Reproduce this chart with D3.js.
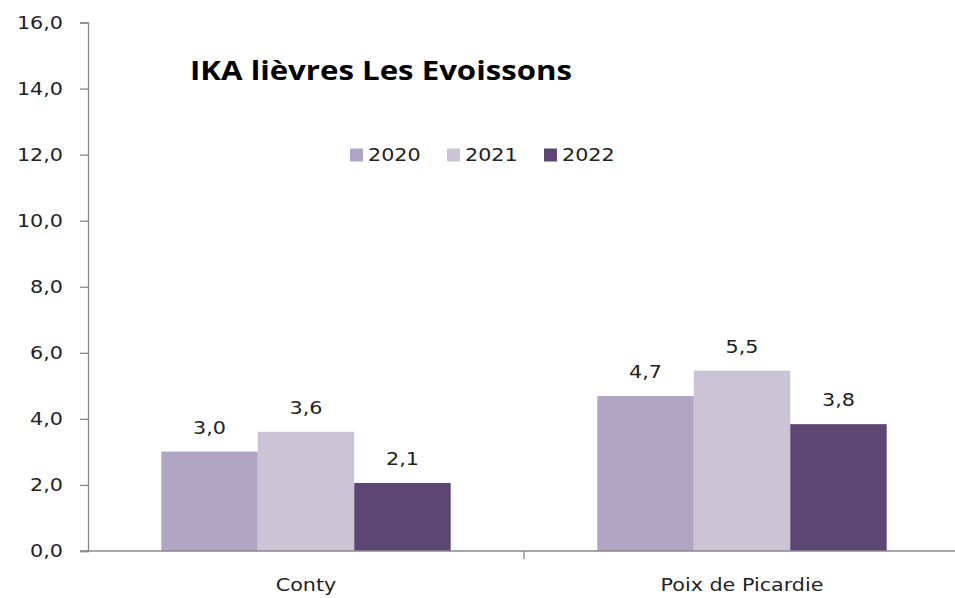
<!DOCTYPE html>
<html>
<head>
<meta charset="utf-8">
<script src="https://cdn.jsdelivr.net/npm/d3@7"></script>
<style>
  body { margin: 0; background: #fff; }
  svg { display: block; }
  /* the reference glyphs are a bit wider than the fonts we have */
  .wide { transform-box: fill-box; transform: scaleX(1.15); }
  .wide-l { transform-origin: left center; }
  .wide-r { transform-origin: right center; }
  .wide-c { transform-origin: center center; }
</style>
</head>
<body>
<svg id="chart" width="955" height="598"></svg>
<script>
// data
const categories = ["Conty", "Poix de Picardie"];
const years = ["2020", "2021", "2022"];
const values2020 = [3.01, 4.69];
const values2021 = [3.61, 5.46];
const values2022 = [2.06, 3.84];
const yTicks = [0, 2, 4, 6, 8, 10, 12, 14, 16];
const colors = ["#b1a5c4", "#cbc4d7", "#5d4574"];

const series = [values2020, values2021, values2022];
const fmt = v => d3.format(".1f")(v).replace(".", ",");
const labelFont = "DejaVu Sans, Verdana, sans-serif";

const svg = d3.select("#chart");
const m = { left: 88, right: 960, top: 22.5, bottom: 551 };

const x = d3.scaleBand().domain(categories).range([m.left, m.right]);
const inner = d3.scaleBand().domain(years)
  .range([0, x.bandwidth()]).paddingOuter(0.76).paddingInner(0);
const y = d3.scaleLinear().domain([0, 16]).range([m.bottom, m.top]);

// bars + value labels
categories.forEach((cat, ci) => {
  const g = svg.append("g").attr("transform", `translate(${x(cat)},0)`);
  years.forEach((yr, si) => {
    const v = series[si][ci];
    g.append("rect")
      .attr("x", inner(yr))
      .attr("y", y(v))
      .attr("width", inner.bandwidth())
      .attr("height", y(0) - y(v))
      .attr("fill", colors[si]);
    g.append("text")
      .attr("class", "wide wide-c")
      .attr("x", inner(yr) + inner.bandwidth() / 2)
      .attr("y", y(v) - 18)
      .attr("text-anchor", "middle")
      .attr("font-family", labelFont)
      .attr("font-size", 18)
      .attr("fill", "#222")
      .text(fmt(v));
  });
});

// y axis
const yAxis = svg.append("g")
  .attr("transform", `translate(${m.left},0)`)
  .call(d3.axisLeft(y).tickValues(yTicks).tickFormat(fmt).tickSize(8).tickPadding(17));
yAxis.select(".domain").attr("stroke", "#888").attr("stroke-width", 1.3);
yAxis.selectAll(".tick line").attr("stroke", "#888").attr("stroke-width", 1.3);
yAxis.selectAll(".tick text")
  .attr("class", "wide wide-r")
  .attr("font-family", labelFont)
  .attr("font-size", 18)
  .attr("fill", "#222");

// x axis
const xAxis = svg.append("g")
  .attr("transform", `translate(0,${m.bottom})`)
  .call(d3.axisBottom(x).tickSize(0).tickPadding(27));
xAxis.select(".domain").attr("stroke", "#888").attr("stroke-width", 1.3)
  .attr("d", `M${m.left - 8},0H${m.right}`);
xAxis.selectAll(".tick text")
  .attr("class", "wide wide-c")
  .attr("font-family", labelFont)
  .attr("font-size", 18)
  .attr("fill", "#222");
// boundary tick between categories
svg.append("line")
  .attr("x1", x(categories[1])).attr("x2", x(categories[1]))
  .attr("y1", m.bottom).attr("y2", m.bottom + 8)
  .attr("stroke", "#888").attr("stroke-width", 1.3);

// title
svg.append("text")
  .attr("x", 190).attr("y", 80)
  .style("transform-box", "fill-box")
  .style("transform-origin", "left center")
  .style("transform", "scaleX(1.2)")
  .attr("font-family", "Open Sans, sans-serif")
  .attr("font-weight", "bold")
  .attr("font-size", 26)
  .attr("fill", "#000")
  .text("IKA lièvres Les Evoissons");

// legend
const legend = svg.append("g").attr("transform", "translate(350,155)");
years.forEach((yr, i) => {
  const item = legend.append("g").attr("transform", `translate(${i * 97},0)`);
  item.append("rect").attr("x", 0).attr("y", -6.5).attr("width", 13).attr("height", 13)
    .attr("fill", colors[i]);
  item.append("text").attr("class", "wide wide-l")
    .attr("x", 18).attr("y", 0).attr("dy", "0.35em")
    .attr("font-family", labelFont)
    .attr("font-size", 18)
    .attr("fill", "#222")
    .text(yr);
});
</script>
</body>
</html>
